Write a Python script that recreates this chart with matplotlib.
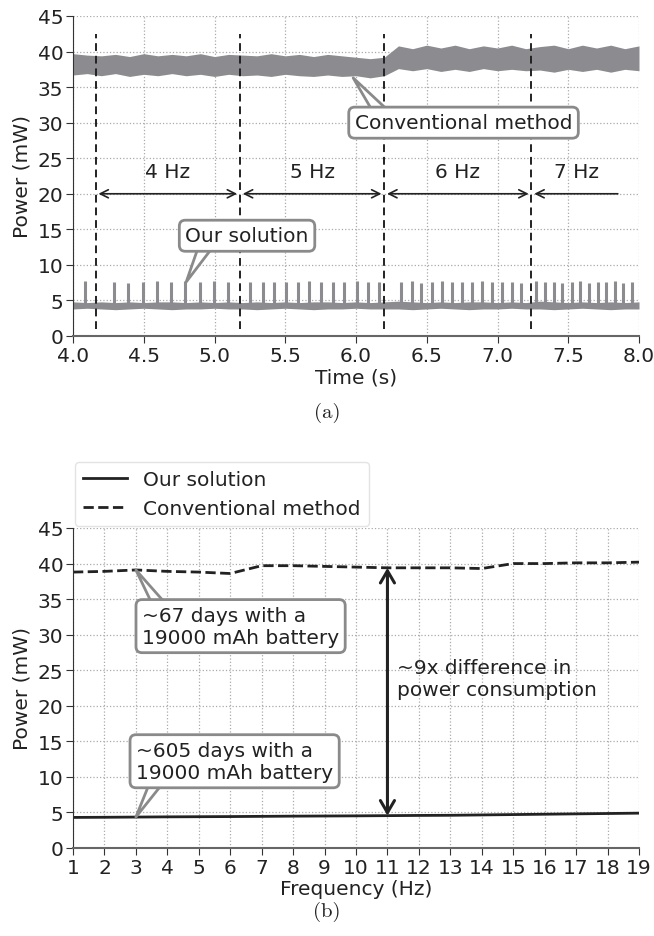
import numpy as np
import matplotlib.pyplot as plt

plt.rcParams['font.family'] = 'DejaVu Sans'
plt.rcParams['font.size'] = 14.5
plt.rcParams['text.color'] = '#222222'
plt.rcParams['axes.labelcolor'] = '#222222'

t_env = np.linspace(4.0, 8.0, 41)
conv_hi = [39.7, 39.5, 39.4, 39.6, 39.3, 39.7, 39.4, 39.6, 39.4, 39.7,
           39.3, 39.6, 39.5, 39.4, 39.7, 39.4, 39.6, 39.3, 39.6, 39.4,
           39.2, 39.0, 39.2, 40.8, 40.4, 40.9, 40.5, 40.9, 40.4, 40.8,
           40.5, 40.9, 40.4, 40.7, 40.9, 40.4, 40.9, 40.5, 40.9, 40.4, 40.8]
conv_lo = [36.7, 36.9, 36.6, 36.9, 36.5, 36.8, 36.6, 36.9, 36.6, 36.8,
           36.5, 36.8, 36.6, 36.7, 36.5, 36.8, 36.6, 36.5, 36.7, 36.5,
           36.6, 36.3, 36.6, 37.6, 37.3, 37.6, 37.2, 37.5, 37.2, 37.6,
           37.3, 37.5, 37.3, 37.4, 37.1, 37.5, 37.2, 37.5, 37.1, 37.5, 37.3]
ours_hi = [4.8, 4.7, 4.8, 4.7, 4.8, 4.7, 4.8, 4.8, 4.7, 4.8,
           4.7, 4.8, 4.7, 4.8, 4.7, 4.8, 4.7, 4.8, 4.8, 4.7,
           4.8, 4.7, 4.8, 4.9, 4.8, 4.7, 4.8, 4.7, 4.8, 4.8,
           4.7, 4.8, 4.7, 4.9, 4.8, 4.7, 4.8, 4.7, 4.8, 4.7, 4.8]
ours_lo = [3.8, 3.9, 3.8, 3.7, 3.8, 3.9, 3.8, 3.7, 3.8, 3.8,
           3.9, 3.8, 3.8, 3.7, 3.8, 3.9, 3.8, 3.7, 3.8, 3.8,
           3.9, 3.8, 3.8, 3.8, 3.7, 3.8, 3.9, 3.8, 3.7, 3.8,
           3.8, 3.9, 3.8, 3.8, 3.7, 3.8, 3.9, 3.8, 3.7, 3.8, 3.8]
spike_t = [4.085, 4.292, 4.391, 4.493, 4.592, 4.691, 4.793, 4.894, 4.993, 5.095,
           5.253, 5.342, 5.422, 5.505, 5.587, 5.668, 5.752, 5.835, 5.918, 6.004,
           6.086, 6.166, 6.315, 6.393, 6.461, 6.534, 6.605, 6.676, 6.747, 6.817,
           6.888, 6.959, 7.034, 7.100, 7.169, 7.270, 7.336, 7.399, 7.459, 7.525,
           7.583, 7.647, 7.713, 7.770, 7.831, 7.890, 7.954]
spike_top = [7.7, 7.6, 7.5, 7.6, 7.8, 7.6, 7.7, 7.6, 7.8, 7.6,
             7.6, 7.6, 7.6, 7.6, 7.6, 7.7, 7.6, 7.6, 7.6, 7.7,
             7.6, 7.6, 7.6, 7.7, 7.5, 7.6, 7.7, 7.6, 7.6, 7.6,
             7.7, 7.6, 7.6, 7.6, 7.5, 7.7, 7.6, 7.6, 7.5, 7.6,
             7.7, 7.5, 7.6, 7.6, 7.7, 7.5, 7.6]
switch_t = [4.16, 5.18, 6.20, 7.24]
rate_end = 7.87
rate_labels = ['4 Hz', '5 Hz', '6 Hz', '7 Hz']

# ---- (b) average power vs. frequency ----
freq = list(range(1, 20))
ours_avg = [4.30, 4.32, 4.35, 4.38, 4.40, 4.42, 4.45, 4.48, 4.50, 4.52,
            4.55, 4.58, 4.60, 4.65, 4.70, 4.75, 4.80, 4.85, 4.90]
conv_avg = [38.8, 38.9, 39.1, 38.9, 38.8, 38.6, 39.7, 39.7, 39.6, 39.5,
            39.4, 39.4, 39.4, 39.3, 40.0, 40.0, 40.1, 40.1, 40.2]

trace_col = '#8c8c90'
box_kw = dict(boxstyle='round,pad=0.3', fc='white', ec='#8a8a8a', lw=2)


def callout(ax, txt, xy, xytext, relpos):
    # wedge starts inside the box, the box hides its base
    ax.annotate(txt, xy=xy, xytext=xytext, ha='center', va='center',
                multialignment='left', bbox=box_kw,
                arrowprops=dict(arrowstyle='wedge,tail_width=0.8', fc='white',
                                ec='#8a8a8a', lw=2, relpos=relpos,
                                patchA=None, shrinkA=0, shrinkB=0))


def style(ax):
    for s in ['top', 'right']:
        ax.spines[s].set_visible(False)
    ax.spines['left'].set_color('#333333')
    ax.spines['bottom'].set_color('#666666')
    ax.spines['bottom'].set_linewidth(1.5)
    ax.grid(True, ls=':', color='#aaaaaa', lw=0.9)
    ax.set_axisbelow(True)
    ax.tick_params(direction='out', length=5, pad=2, color='#333333', labelcolor='#222222')


fig = plt.figure(figsize=(6.54, 9.37), dpi=100)
ax1 = fig.add_axes([73 / 654, 1 - 337 / 937, 566 / 654, 320 / 937])
ax2 = fig.add_axes([73 / 654, 1 - 849 / 937, 566 / 654, 320 / 937])

# (a)
style(ax1)
ax1.fill_between(t_env, conv_lo, conv_hi, color=trace_col, lw=0)
ax1.fill_between(t_env, ours_lo, ours_hi, color=trace_col, lw=0)
ax1.vlines(spike_t, 4.3, spike_top, color=trace_col, lw=2.2)
ax1.vlines(switch_t, 1.0, 42.5, color='#222222', ls=(0, (4, 2.5)), lw=1.4)
bounds = switch_t + [rate_end]
for i in range(4):
    st = '<->' if i < 3 else '<-'
    ax1.annotate('', xy=(bounds[i + 1], 20), xytext=(bounds[i], 20),
                 arrowprops=dict(arrowstyle=st, color='#222222', lw=1.2,
                                 shrinkA=2, shrinkB=2))
    ax1.text((bounds[i] + bounds[i + 1]) / 2, 23.2, rate_labels[i],
             ha='center', va='center')
callout(ax1, 'Conventional method', (5.98, 36.3), (6.76, 30.0), (0.15, 0.6))
callout(ax1, 'Our solution', (4.80, 7.6), (5.23, 14.1), (0.2, 0.4))
ax1.set_xlim(4.0, 8.0)
ax1.set_ylim(0, 45)
ax1.set_xticks(np.arange(4.0, 8.01, 0.5))
ax1.set_xticklabels(['%.1f' % v for v in np.arange(4.0, 8.01, 0.5)])
ax1.set_yticks(range(0, 46, 5))
ax1.set_xlabel('Time (s)', labelpad=2)
ax1.set_ylabel('Power (mW)', labelpad=4)

# (b)
style(ax2)
ax2.plot(freq, ours_avg, color='#222222', lw=2, label='Our solution')
ax2.plot(freq, conv_avg, color='#222222', lw=2, ls='--', label='Conventional method')
ax2.annotate('', xy=(11, conv_avg[10]), xytext=(11, ours_avg[10]),
             arrowprops=dict(arrowstyle='<->,head_length=0.6,head_width=0.35',
                             color='#222222', lw=2.2, shrinkA=0, shrinkB=0))
ax2.text(11.3, 23.8, '~9x difference in\npower consumption', ha='left', va='center')
callout(ax2, '~67 days with a\n19000 mAh battery', (3, conv_avg[2]), (6.33, 31.2), (0.13, 0.7))
callout(ax2, '~605 days with a\n19000 mAh battery', (3, ours_avg[2]), (6.14, 12.2), (0.14, 0.3))
ax2.set_xlim(1, 19)
ax2.set_ylim(0, 45)
ax2.set_xticks(freq)
ax2.set_yticks(range(0, 46, 5))
ax2.set_xlabel('Frequency (Hz)', labelpad=2)
ax2.set_ylabel('Power (mW)', labelpad=4)
ax2.legend(loc='lower left', bbox_to_anchor=(0.0, 1.0), borderaxespad=0.1,
           fontsize=14.5, edgecolor='#dddddd', handlelength=2.2)

fig.text(0.5, 1 - 413 / 937, '(a)', ha='center', va='center', family='cmr10', fontsize=15)
fig.text(0.5, 1 - 912 / 937, '(b)', ha='center', va='center', family='cmr10', fontsize=15)

fig.savefig('out.png', dpi=100)
